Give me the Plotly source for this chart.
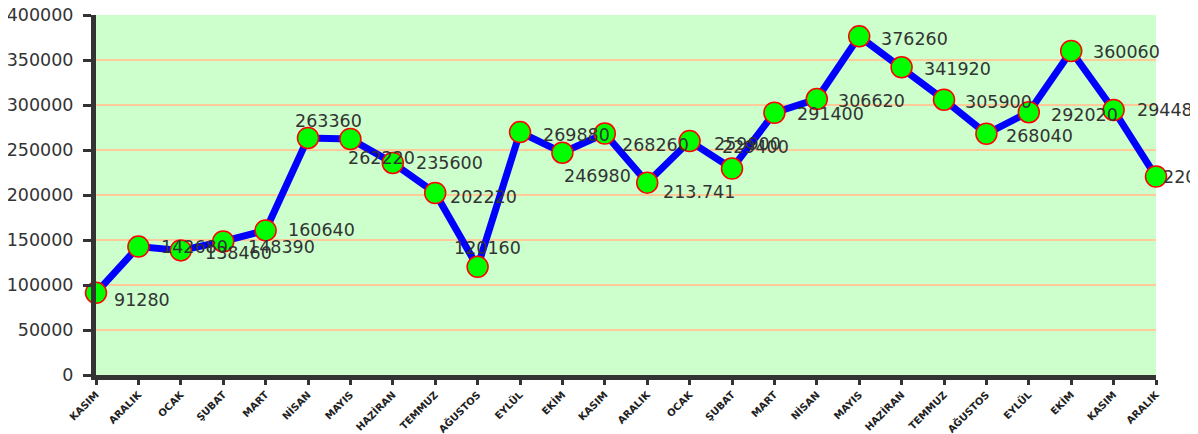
import plotly.graph_objects as go

months = ["KASIM", "ARALIK", "OCAK", "ŞUBAT", "MART", "NİSAN", "MAYIS", "HAZİRAN",
          "TEMMUZ", "AĞUSTOS", "EYLÜL", "EKİM", "KASIM", "ARALIK", "OCAK", "ŞUBAT",
          "MART", "NİSAN", "MAYIS", "HAZİRAN", "TEMMUZ", "AĞUSTOS", "EYLÜL", "EKİM",
          "KASIM", "ARALIK"]
values = [91280, 142680, 138460, 148390, 160640, 263360, 262220, 235600,
          202220, 120160, 269880, 246980, 268260, 213741, 259900, 229400,
          291400, 306620, 376260, 341920, 305900, 268040, 292020, 360060,
          294480, 220560]
value_labels = [str(v) for v in values]
value_labels[13] = "213.741"

# label offsets in pixels (right, down) relative to each point
label_dx = [16, 21, 22, 23, 20, -15, -4, 21, 13, -26, 21, 0, 15, 14, 22, -12,
            21, 19, 20, 20, 19, 18, 20, 20, 21, 5]
label_dy = [7, 0, 3, 6, 0, -17, 19, 0, 4, -19, 3, 23, 11, 9, 3, -22,
            1, 2, 3, 2, 2, 2, 3, 1, 0, 0]

x = list(range(len(values)))

fig = go.Figure()
fig.add_trace(go.Scatter(
    x=x, y=values, mode="lines+markers",
    line=dict(color="#0000FF", width=7),
    marker=dict(color="#00FF00", size=21, line=dict(color="#FF0000", width=1.5)),
    cliponaxis=False, hoverinfo="x+y",
))

for xi, yi, t, dx, dy in zip(x, values, value_labels, label_dx, label_dy):
    fig.add_annotation(x=xi, y=yi, text=t, showarrow=False,
                       xanchor="left", yanchor="middle",
                       xshift=dx, yshift=-dy,
                       font=dict(family="DejaVu Sans", size=17.5, color="#333333"))

# the page body adds an 8px offset, so the figure is sized to fit the window
fig.update_layout(
    width=1190, height=426,
    margin=dict(l=88, r=42, t=7, b=59, autoexpand=False),
    paper_bgcolor="white", plot_bgcolor="#CCFFCC",
    showlegend=False,
    font=dict(family="DejaVu Sans", color="#333333"),
)
fig.update_xaxes(
    range=[0, 25], tickvals=x, ticktext=months, tickangle=-45,
    tickfont=dict(family="DejaVu Sans", size=10, color="#222222", weight="bold"),
    showgrid=False, zeroline=False,
    showline=True, linecolor="#333333", linewidth=5,
    ticks="outside", ticklen=5, tickwidth=3, tickcolor="#333333",
)
fig.update_yaxes(
    range=[0, 400000], dtick=50000, tickformat="d",
    tickfont=dict(family="DejaVu Sans", size=17.5, color="#333333"),
    ticklabeloverflow="allow",
    showgrid=True, gridcolor="#FFCC99", gridwidth=1.5,
    zeroline=False,
    showline=True, linecolor="#333333", linewidth=5,
    ticks="outside", ticklen=8, tickwidth=3, tickcolor="#333333",
    ticklabelstandoff=6,
)

fig.write_html("out.html")
